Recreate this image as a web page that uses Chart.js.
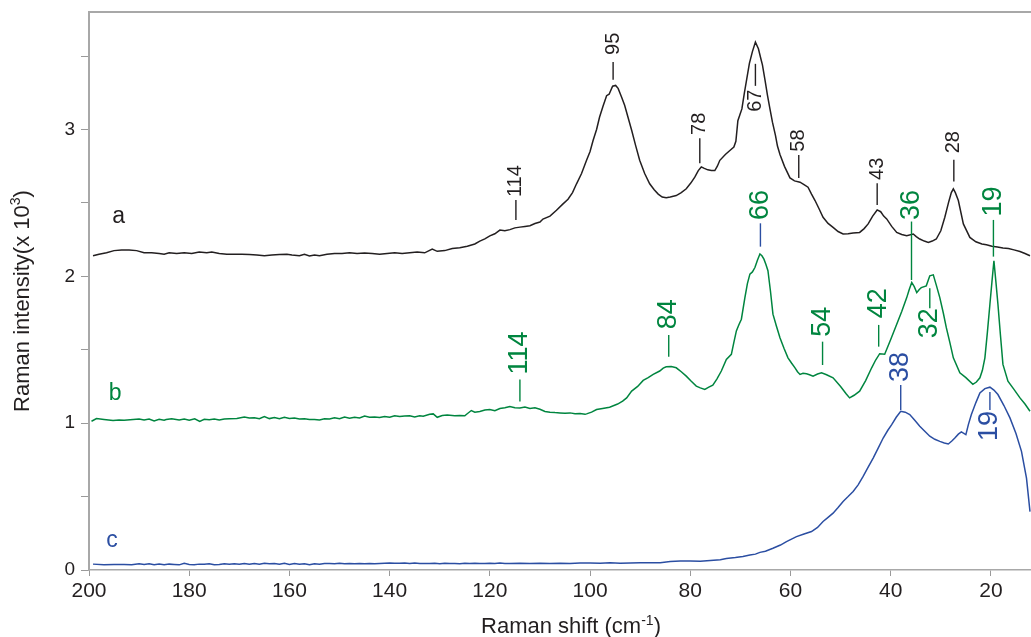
<!DOCTYPE html>
<html>
<head>
<meta charset="utf-8">
<script src="https://cdn.jsdelivr.net/npm/chart.js@4.4.0/dist/chart.umd.min.js"></script>
<style>
html, body { margin: 0; padding: 0; background: #fff; }
#wrap { width: 1031px; height: 637px; }
</style>
</head>
<body>
<div id="wrap"><canvas id="raman" width="1031" height="637"></canvas></div>
<script>
// [Raman shift (cm-1), intensity (x 10^3)]
const spectrumA = [
  [199.2, 2.14], [198, 2.15], [196.5, 2.16], [195, 2.175], [193.5, 2.18], [192, 2.18], [190.5, 2.175],
  [189, 2.16], [187.5, 2.16], [186, 2.155], [185, 2.15], [184, 2.16], [182.5, 2.155], [181, 2.16],
  [179.5, 2.155], [178, 2.165], [176.5, 2.16], [175.5, 2.165], [174, 2.155], [172.5, 2.15], [171, 2.15],
  [169.5, 2.15], [168, 2.148], [166.5, 2.145], [165, 2.14], [163.5, 2.145], [162, 2.148], [160.5, 2.15],
  [159.5, 2.145], [158, 2.14], [157, 2.15], [156, 2.138], [155, 2.145], [154, 2.14], [152.5, 2.15],
  [151, 2.156], [149.5, 2.155], [148, 2.16], [146.5, 2.155], [145, 2.158], [143.5, 2.155], [142, 2.15],
  [140.5, 2.155], [139, 2.16], [137.5, 2.155], [136, 2.16], [134.5, 2.165], [133, 2.16], [131.5, 2.185],
  [130.5, 2.17], [129, 2.175], [127.5, 2.19], [126, 2.195], [124.5, 2.205], [123, 2.22], [122, 2.24],
  [121, 2.255], [120, 2.275], [119, 2.29], [118, 2.315], [117, 2.31], [116, 2.318], [115, 2.33],
  [114, 2.335], [113, 2.34], [112, 2.345], [111, 2.36], [110, 2.37], [109.4, 2.39], [108, 2.41],
  [106.7, 2.45], [105.5, 2.49], [104.4, 2.525], [103.5, 2.57], [102.7, 2.63], [101.7, 2.70], [100.7, 2.79],
  [100, 2.85], [99.4, 2.925], [98.7, 3.00], [98.1, 3.085], [97.4, 3.16], [96.7, 3.23], [96.2, 3.24],
  [95.5, 3.295], [94.9, 3.30], [94.4, 3.28], [93.7, 3.22], [93.1, 3.165], [92.4, 3.08], [91.7, 2.995],
  [90.9, 2.89], [90.1, 2.79], [89.1, 2.70], [88.1, 2.63], [87.2, 2.59], [86.4, 2.56], [85.6, 2.54],
  [84.8, 2.535], [84, 2.54], [83.4, 2.545], [82.8, 2.55], [81.8, 2.57], [80.8, 2.596], [79.9, 2.635],
  [79.1, 2.675], [78.4, 2.72], [77.8, 2.745], [77.2, 2.735], [76.5, 2.725], [75.8, 2.72], [75.1, 2.72],
  [74.6, 2.75], [74.1, 2.79], [73, 2.83], [72.1, 2.857], [71.3, 2.88], [70.9, 2.92], [70.5, 3.06],
  [70.1, 3.10], [69.7, 3.14], [69.2, 3.25], [68.7, 3.35], [68.2, 3.45], [67.6, 3.53], [67, 3.595],
  [66.4, 3.55], [65.9, 3.48], [65.6, 3.44], [65.1, 3.34], [64.6, 3.234], [64.1, 3.14], [63.6, 3.05],
  [63, 2.96], [62.6, 2.887], [62.1, 2.83], [61.2, 2.749], [60.1, 2.67], [59.2, 2.65], [58.1, 2.641],
  [57.3, 2.625], [56.5, 2.607], [55.8, 2.56], [55.1, 2.516], [54.3, 2.46], [53.5, 2.402], [52.5, 2.36],
  [51.5, 2.333], [50.5, 2.305], [49.5, 2.288], [48.5, 2.29], [47.5, 2.295], [46.2, 2.299], [45.3, 2.325],
  [44.5, 2.357], [43.6, 2.41], [42.7, 2.452], [42, 2.44], [41.4, 2.41], [40.8, 2.391], [39.8, 2.34],
  [38.8, 2.299], [37.8, 2.285], [36.8, 2.277], [35.5, 2.288], [34.9, 2.27], [34.2, 2.254], [33.3, 2.24],
  [32.5, 2.231], [31.7, 2.24], [30.9, 2.254], [30, 2.31], [29.2, 2.402], [28.4, 2.51], [27.9, 2.57],
  [27.5, 2.596], [27.1, 2.57], [26.5, 2.516], [25.5, 2.357], [24.2, 2.265], [23, 2.235], [21.8, 2.22],
  [20.9, 2.215], [19.8, 2.205], [18.7, 2.2], [17.6, 2.193], [16.5, 2.19], [15.4, 2.18], [14.2, 2.169],
  [13.2, 2.155], [12.2, 2.14]
];

const spectrumB = [
  [199.5, 1.013], [198.5, 1.031], [197, 1.025], [195.2, 1.018], [194, 1.022], [193, 1.02], [191.2, 1.025],
  [190, 1.028], [189, 1.022], [188, 1.028], [187, 1.015], [186, 1.026], [185, 1.02], [184.6, 1.025],
  [183.5, 1.03], [182, 1.022], [181, 1.028], [180, 1.02], [178.9, 1.03], [177.9, 1.012], [177, 1.026],
  [176, 1.024], [175, 1.028], [174, 1.022], [173, 1.028], [172, 1.03], [170.5, 1.032], [169, 1.042],
  [168, 1.035], [167, 1.036], [166, 1.03], [165, 1.045], [164, 1.031], [163, 1.038], [162, 1.03],
  [161, 1.04], [160, 1.032], [159, 1.035], [158, 1.028], [157, 1.03], [156, 1.025], [155, 1.025],
  [154, 1.022], [153, 1.03], [152, 1.028], [151, 1.036], [150, 1.03], [149, 1.042], [148, 1.034],
  [147, 1.04], [146, 1.036], [145, 1.048], [144, 1.04], [143, 1.042], [142, 1.038], [141, 1.046],
  [140, 1.04], [139, 1.05], [138, 1.045], [137, 1.048], [136, 1.05], [135, 1.042], [134, 1.05],
  [133.3, 1.047], [132, 1.06], [131.3, 1.063], [130.5, 1.04], [129.5, 1.052], [128.5, 1.055], [127, 1.05],
  [126, 1.052], [125, 1.05], [124.7, 1.059], [123.7, 1.086], [123, 1.075], [122, 1.08], [121, 1.09],
  [120, 1.093], [119, 1.085], [118, 1.1], [117, 1.105], [116, 1.113], [115, 1.105], [114, 1.104],
  [113, 1.11], [112, 1.1], [111, 1.105], [110, 1.095], [109, 1.08], [108, 1.075], [107, 1.072],
  [106, 1.07], [105, 1.068], [104, 1.07], [103, 1.064], [102, 1.065], [101, 1.06], [100.7, 1.063],
  [99.7, 1.075], [98.7, 1.093], [97.5, 1.1], [96.1, 1.109], [94.5, 1.13], [93.5, 1.15], [92.7, 1.172],
  [91.7, 1.218], [90.5, 1.25], [89.4, 1.291], [88.4, 1.31], [87.4, 1.332], [86.1, 1.355], [85.4, 1.375],
  [84.8, 1.384], [83.8, 1.385], [82.8, 1.377], [81.8, 1.35], [80.8, 1.32], [79.8, 1.285], [78.8, 1.252],
  [78, 1.24], [77.1, 1.23], [76.3, 1.245], [75.5, 1.259], [74.7, 1.3], [73.8, 1.355], [72.8, 1.434],
  [71.8, 1.469], [71.3, 1.55], [70.8, 1.628], [70.3, 1.67], [69.8, 1.708], [69.1, 1.855], [68.6, 1.95],
  [68.1, 2.015], [67.6, 2.03], [67.1, 2.06], [66.6, 2.11], [66.1, 2.152], [65.7, 2.14], [65.3, 2.117],
  [64.9, 2.08], [64.5, 2.038], [64, 1.90], [63.5, 1.742], [62.8, 1.66], [62.1, 1.582], [61.3, 1.51],
  [60.5, 1.445], [59.8, 1.41], [59.1, 1.377], [58.6, 1.35], [58.1, 1.332], [57.5, 1.34], [56.8, 1.336],
  [56.2, 1.33], [55.5, 1.32], [54.6, 1.335], [53.8, 1.343], [52.8, 1.33], [51.5, 1.309], [50, 1.25],
  [48.9, 1.2], [48.2, 1.172], [47.3, 1.19], [46.2, 1.218], [45, 1.29], [43.8, 1.377], [43, 1.43],
  [42.2, 1.473], [41.2, 1.469], [40, 1.57], [38.8, 1.673], [37.8, 1.76], [36.8, 1.855], [36.3, 1.91],
  [35.8, 1.958], [35.3, 1.93], [34.8, 1.889], [34.3, 1.91], [33.9, 1.923], [32.9, 1.935], [32.2, 2.003],
  [31.5, 2.01], [30.9, 1.94], [30.2, 1.855], [29.5, 1.75], [28.9, 1.65], [28.2, 1.55], [27.5, 1.445],
  [26.2, 1.343], [25, 1.31], [23.6, 1.264], [22.9, 1.28], [22.2, 1.309], [21.7, 1.36], [21.2, 1.445],
  [20.7, 1.62], [20.2, 1.81], [19.8, 1.96], [19.4, 2.106], [19, 1.96], [18.6, 1.81], [18.1, 1.6],
  [17.6, 1.40], [16.6, 1.286], [15.4, 1.23], [14.2, 1.172], [13.2, 1.13], [12.2, 1.081]
];

const spectrumC = [
  [199.2, 0.04], [197, 0.035], [195, 0.037], [193, 0.037], [191.5, 0.036], [190, 0.042], [189, 0.038],
  [188, 0.042], [187, 0.036], [186, 0.04], [185, 0.035], [184, 0.04], [183, 0.038], [182, 0.035],
  [181, 0.046], [180, 0.038], [179, 0.036], [178, 0.04], [177, 0.04], [176, 0.042], [175, 0.036],
  [174, 0.038], [173, 0.042], [172, 0.04], [171, 0.042], [170, 0.04], [169, 0.045], [168, 0.04],
  [167, 0.044], [166, 0.04], [165, 0.046], [164, 0.042], [163, 0.044], [162, 0.04], [161, 0.046],
  [160, 0.038], [159, 0.044], [158, 0.04], [157, 0.042], [156, 0.036], [155, 0.042], [154, 0.04],
  [153, 0.045], [152, 0.044], [151, 0.042], [150, 0.046], [149, 0.042], [148, 0.044], [147, 0.042],
  [146, 0.045], [145, 0.042], [144, 0.044], [143, 0.042], [142, 0.044], [141, 0.046], [140, 0.048],
  [139, 0.046], [138, 0.046], [137, 0.047], [136, 0.044], [135, 0.048], [134, 0.044], [133, 0.045],
  [132, 0.044], [131, 0.046], [130, 0.043], [129, 0.046], [128, 0.044], [127, 0.045], [126, 0.042],
  [125, 0.046], [124, 0.044], [123, 0.046], [122, 0.045], [121, 0.044], [120, 0.046], [119, 0.045],
  [118, 0.047], [117, 0.045], [116, 0.044], [114, 0.046], [112, 0.045], [110, 0.046], [108, 0.044],
  [106, 0.046], [104, 0.045], [102, 0.047], [100, 0.048], [98, 0.046], [96, 0.05], [94, 0.046],
  [92, 0.048], [90, 0.05], [88, 0.05], [86, 0.05], [84, 0.058], [82, 0.061], [80, 0.062], [78, 0.059],
  [76, 0.065], [74, 0.07], [72.8, 0.079], [71, 0.085], [69.5, 0.092], [68.1, 0.102], [67, 0.108],
  [66.1, 0.12], [65, 0.128], [63.5, 0.148], [62, 0.17], [60.8, 0.193], [59.8, 0.21], [58.8, 0.227],
  [57.3, 0.245], [55.8, 0.262], [54.6, 0.29], [53.5, 0.33], [52.5, 0.358], [51.5, 0.387], [50.5, 0.425],
  [49.5, 0.467], [48.5, 0.5], [47.5, 0.535], [46.5, 0.58], [45.5, 0.637], [44.5, 0.70], [43.5, 0.762],
  [42.5, 0.83], [41.5, 0.899], [40.6, 0.95], [39.8, 0.99], [38.9, 1.04], [38, 1.081], [37.1, 1.075],
  [36.2, 1.059], [35.2, 1.02], [34.2, 0.979], [33.2, 0.945], [32.2, 0.911], [31.2, 0.89], [30.2, 0.876],
  [29.3, 0.865], [28.5, 0.858], [27.8, 0.878], [27.2, 0.899], [26.5, 0.925], [25.9, 0.94], [25, 0.922],
  [24.5, 0.99], [23.9, 1.059], [23, 1.14], [22.2, 1.206], [21.2, 1.235], [20.2, 1.245], [19.4, 1.225],
  [18.6, 1.195], [17.4, 1.12], [16.2, 1.036], [15, 0.93], [13.9, 0.808], [12.9, 0.626], [12.2, 0.398]
];

// peak marks: [shift, mark from, mark to, label start, label, mark colour from]
const peaksA = [
  [114.8, 2.384, 2.52, 2.54, '114'], [95.4, 3.338, 3.46, 3.508, '95'], [78.1, 2.77, 2.94, 2.963, '78'],
  [67.0, 3.297, 3.447, 3.12, '67'], [58.35, 2.67, 2.827, 2.849, '58'], [42.7, 2.486, 2.634, 2.656, '43'],
  [27.4, 2.645, 2.793, 2.838, '28']
];
const peaksB = [
  [114.0, 1.147, 1.297, 1.332, '114'], [84.3, 1.453, 1.601, 1.64, '84'], [66.0, 2.202, 2.361, 2.384, '66', 'c'],
  [53.6, 1.396, 1.555, 1.589, '54'], [42.4, 1.521, 1.669, 1.714, '42'], [35.85, 1.975, 2.373, 2.384, '36'],
  [32.2, 1.783, 1.919, 1.578, '32'], [19.5, 2.134, 2.384, 2.407, '19']
];
const peaksC = [
  [38.0, 1.09, 1.26, 1.281, '38'], [20.2, 1.09, 1.213, 0.879, '19']
];

const curveNames = ['a', 'b', 'c'];
const curveNameAt = [[194.1, 2.364], [194.8, 1.158], [195.4, 0.157]];

const xTicks = [200, 180, 160, 140, 120, 100, 80, 60, 40, 20];
const yTickMarks = [0, 0.5, 1, 1.5, 2, 2.5, 3, 3.5];
const yLabels = [0, 1, 2, 3];

const ink = '#231f20';
const green = '#00853f';
const blue = '#2b4ea2';
const frame = '#a8a8a8';
const family = '"Liberation Sans", Arial, Helvetica, sans-serif';

Chart.defaults.font.family = family;

function toPoints(list) {
    return list.map(p => ({ x: p[0], y: p[1] }));
}

function supText(ctx, parts, size, supSize) {
    // parts: [text, isSuper]; drawn centred on 0, alphabetic baseline at 0
    const widths = parts.map(p => {
        ctx.font = (p[1] ? supSize : size) + 'px ' + family;
        return ctx.measureText(p[0]).width;
    });
    let cx = -widths.reduce((s, w) => s + w, 0) / 2;
    parts.forEach((p, i) => {
        ctx.font = (p[1] ? supSize : size) + 'px ' + family;
        ctx.fillText(p[0], cx, p[1] ? -size * 0.38 : 0);
        cx += widths[i];
    });
}

const marks = {
    id: 'marks',
    afterDatasetsDraw(chart) {
        const ctx = chart.ctx;
        const xs = chart.scales.x;
        const ys = chart.scales.y;
        const area = chart.chartArea;
        ctx.save();

        ctx.strokeStyle = frame;
        ctx.lineWidth = 2;
        ctx.beginPath();
        ctx.moveTo(area.left - 1, area.top);
        ctx.lineTo(area.right, area.top);
        ctx.stroke();

        [[peaksA, ink, 20], [peaksB, green, 27], [peaksC, blue, 27]].forEach(([list, col, size]) => {
            list.forEach(p => {
                const px = xs.getPixelForValue(p[0]);
                ctx.strokeStyle = p[5] === 'c' ? blue : col;
                ctx.lineWidth = 1.4;
                ctx.beginPath();
                ctx.moveTo(px, ys.getPixelForValue(p[1]));
                ctx.lineTo(px, ys.getPixelForValue(p[2]));
                ctx.stroke();

                ctx.save();
                ctx.translate(px, ys.getPixelForValue(p[3]));
                ctx.rotate(-Math.PI / 2);
                ctx.fillStyle = col;
                ctx.font = size + 'px ' + family;
                ctx.textAlign = 'left';
                ctx.textBaseline = 'middle';
                ctx.fillText(p[4], 0, 0);
                ctx.restore();
            });
        });

        ctx.font = '23px ' + family;
        ctx.textAlign = 'center';
        ctx.textBaseline = 'alphabetic';
        [ink, green, blue].forEach((col, i) => {
            ctx.fillStyle = col;
            ctx.fillText(curveNames[i], xs.getPixelForValue(curveNameAt[i][0]), ys.getPixelForValue(curveNameAt[i][1]));
        });

        // axis titles
        ctx.fillStyle = ink;
        ctx.textAlign = 'left';
        ctx.save();
        ctx.translate(571, 633);
        supText(ctx, [['Raman shift (cm', false], ['-1', true], [')', false]], 22, 14);
        ctx.restore();

        ctx.save();
        ctx.translate(28.5, 301);
        ctx.rotate(-Math.PI / 2);
        supText(ctx, [['Raman intensity(x 10', false], ['3', true], [')', false]], 22, 14);
        ctx.restore();

        ctx.restore();
    }
};

new Chart(document.getElementById('raman'), {
    type: 'line',
    data: {
        datasets: [
            { label: 'a', data: toPoints(spectrumA), borderColor: ink, borderWidth: 1.5, pointRadius: 0, tension: 0 },
            { label: 'b', data: toPoints(spectrumB), borderColor: green, borderWidth: 1.5, pointRadius: 0, tension: 0 },
            { label: 'c', data: toPoints(spectrumC), borderColor: blue, borderWidth: 1.5, pointRadius: 0, tension: 0 }
        ]
    },
    options: {
        responsive: false,
        animation: false,
        layout: { padding: { top: 12, right: 0, left: 0, bottom: 0 } },
        plugins: {
            legend: { display: false },
            tooltip: { enabled: false }
        },
        scales: {
            x: {
                type: 'linear',
                reverse: true,
                min: 12,
                max: 200,
                afterBuildTicks: s => { s.ticks = xTicks.map(v => ({ value: v })); },
                afterFit: s => { s.height = 67; s.paddingLeft = 0; s.paddingRight = 0; },
                ticks: { color: ink, font: { size: 21 }, padding: 3, maxRotation: 0, autoSkip: false },
                grid: { drawOnChartArea: false, tickLength: 6, color: '#9a9a9a' },
                border: { color: frame, width: 1.5 }
            },
            y: {
                type: 'linear',
                min: 0,
                max: 3.8,
                afterBuildTicks: s => { s.ticks = yTickMarks.map(v => ({ value: v })); },
                afterFit: s => { s.width = 89; s.paddingTop = 0; s.paddingBottom = 0; },
                ticks: {
                    color: ink,
                    font: { size: 19 },
                    padding: 6,
                    autoSkip: false,
                    callback: v => yLabels.includes(v) ? String(v) : ''
                },
                grid: { drawOnChartArea: false, tickLength: 8, color: '#9a9a9a' },
                border: { color: frame, width: 2 }
            }
        }
    },
    plugins: [marks]
});
</script>
</body>
</html>
